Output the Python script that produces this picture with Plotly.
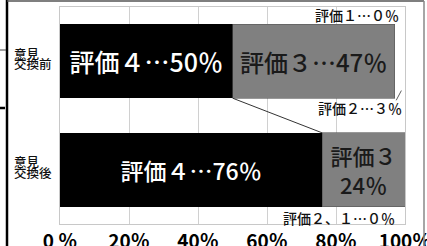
import plotly.graph_objects as go

categories = ["意見<br>交換前", "意見<br>交換後"]
eval4 = [50, 76]
eval3 = [47, 24]
eval2 = [3, 0]
eval1 = [0, 0]
text4 = ["評価４…50％", "評価４…76％"]
text3 = ["評価３…47％", "評価３<br>24％"]
tick_vals = [0, 20, 40, 60, 80, 100]
tick_text = ["0 ％", "20％", "40％", "60％", "80％", "100％"]
note1 = "評価１…０％"
note2 = "評価２…３％"
note3 = "評価２、１…０％"

FONT = "Noto Sans CJK JP"
yidx = list(range(len(categories)))
BW = 0.68

fig = go.Figure()
fig.add_trace(go.Bar(y=yidx, x=eval4, orientation="h", width=BW,
                     marker=dict(color="#000000", line=dict(width=0)),
                     text=text4, textposition="inside", insidetextanchor="middle",
                     textangle=0, constraintext="none",
                     insidetextfont=dict(family=FONT, size=[25, 23], color="white", weight=500)))
fig.add_trace(go.Bar(y=yidx, x=eval3, orientation="h", width=BW,
                     marker=dict(color="#808080", line=dict(width=0.6, color="#555555")),
                     text=text3, textposition="inside", insidetextanchor="middle",
                     textangle=0, constraintext="none",
                     insidetextfont=dict(family=FONT, size=[24, 22], color="#1a1a1a", weight=500)))
fig.add_trace(go.Bar(y=yidx, x=eval2, orientation="h", width=BW,
                     marker=dict(color="white", line=dict(width=0))))
fig.add_trace(go.Bar(y=yidx, x=eval1, orientation="h", width=BW,
                     marker=dict(color="white", line=dict(width=0))))

# series connector line (Excel style)
fig.add_shape(type="line", xref="x", yref="y",
              x0=eval4[0], y0=yidx[0] + BW / 2, x1=eval4[1], y1=yidx[1] - BW / 2,
              line=dict(color="#333333", width=1))
# leader for 評価2 label
fig.add_shape(type="line", xref="x", yref="y",
              x0=eval4[0] + eval3[0] + eval2[0] * 0.65, y0=0.27,
              x1=eval4[0] + eval3[0] + eval2[0] * 0.15, y1=0.36,
              line=dict(color="#333333", width=0.8))

W, H = 345.0, 217.0
def px(x):
    return (x - 60) / W
def py(y):
    return (224 - y) / H

ann = []
for i, c in enumerate(categories):
    lines = c.split("<br>")
    for j, ln in enumerate(lines):
        ann.append(dict(xref="paper", yref="y", x=px(12), y=yidx[i],
                        yshift=8 - j * 10.5, xanchor="left", yanchor="middle",
                        align="left", showarrow=False, text=ln,
                        font=dict(family=FONT, size=12.5, color="#111111", weight=500)))
ann.append(dict(xref="x", yref="y", x=98.8, y=-0.43, xanchor="right", yanchor="middle",
                showarrow=False, text=note1, font=dict(family=FONT, size=14, color="#111111", weight=500)))
ann.append(dict(xref="x", yref="y", x=99.6, y=0.43, xanchor="right", yanchor="middle",
                showarrow=False, text=note2, font=dict(family=FONT, size=14, color="#111111", weight=500)))
ann.append(dict(xref="x", yref="y", x=97.8, y=1.445, xanchor="right", yanchor="middle",
                showarrow=False, text=note3, font=dict(family=FONT, size=14, color="#111111", weight=500)))

fig.update_layout(
    annotations=ann,
    barmode="stack",
    showlegend=False,
    width=427, height=246,
    margin=dict(l=60, r=22, t=7, b=22, autoexpand=False),
    paper_bgcolor="white", plot_bgcolor="white",
    xaxis=dict(range=[0, 100], tickvals=tick_vals, ticktext=tick_text,
               showgrid=True, gridcolor="#d0d0d0", gridwidth=1,
               showline=True, linecolor="#c8c8c8", mirror=True, zeroline=False,
               ticks="", ticklabelstandoff=0, automargin=False,
               ticklabeloverflow="allow",
               tickfont=dict(family=FONT, size=19, color="#000000", weight="bold"),
               fixedrange=True),
    yaxis=dict(range=[1.5, -0.5], showticklabels=False, showgrid=False,
               showline=True, linecolor="#c8c8c8", mirror=True, zeroline=False,
               automargin=False, fixedrange=True),
)

fig.add_shape(type="line", xref="paper", yref="paper", x0=px(7), x1=px(7), y0=py(0), y1=py(246),
              line=dict(color="#000000", width=2.5))
fig.add_shape(type="line", xref="paper", yref="paper", x0=px(7), x1=px(424), y0=py(1), y1=py(1),
              line=dict(color="#555555", width=1.5))
fig.add_shape(type="line", xref="paper", yref="paper", x0=px(424), x1=px(424), y0=py(1), y1=py(246),
              line=dict(color="#888888", width=1.5))
fig.add_shape(type="line", xref="paper", yref="paper", x0=px(0), x1=px(6), y0=py(50), y1=py(50),
              line=dict(color="#444444", width=1))
fig.add_shape(type="line", xref="paper", yref="paper", x0=px(0), x1=px(5), y0=py(108), y1=py(108),
              line=dict(color="#000000", width=2.5))

fig.write_html("out.html", config={"displayModeBar": False},
               post_script="document.body.style.margin='0';document.body.style.overflow='hidden';")
